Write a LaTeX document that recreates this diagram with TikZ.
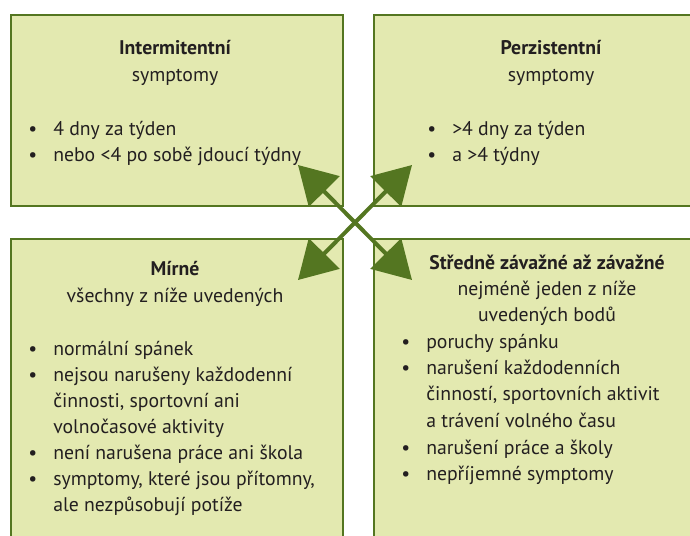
\documentclass[tikz,border=0pt]{standalone}
\usepackage{fontspec}
\setmainfont{PT Sans}
\usepackage{xcolor}
\usetikzlibrary{arrows.meta}
\definecolor{panelfill}{HTML}{E3E9B0}
\definecolor{leaf}{HTML}{547621}
\definecolor{ink}{HTML}{231F20}
\newcommand{\bodyfont}{\fontsize{14.8}{19.7}\selectfont}
\newcommand{\bul}{\llap{\textbullet\hspace{12pt}}}
\newcommand{\rows}[1]{\begin{tabular}[t]{@{}l@{}}#1\end{tabular}}

\begin{document}
\begin{tikzpicture}[
  x=0.75pt, y=-0.75pt,
  panel/.style={draw=leaf,fill=panelfill,line width=1.5pt,
                anchor=north west,inner sep=0pt},
  head/.style={anchor=base,inner sep=0pt,font=\bodyfont\bfseries,text=ink},
  sub/.style={anchor=base,inner sep=0pt,font=\bodyfont,text=ink},
  item/.style={anchor=base west,inner sep=0pt,font=\bodyfont,text=ink},
  link/.style={{Triangle[length=28pt,width=32pt]}-{Triangle[length=28pt,width=32pt]},
               line width=3pt,draw=leaf,fill=leaf}
]
\useasboundingbox (0,0) rectangle (690,536);
\clip (0,0) rectangle (690,536);
% panels
\node[panel,minimum width=249pt,minimum height=143.6pt] (inter) at (9.5,14) {};
\node[panel,minimum width=240pt,minimum height=143.6pt] (pers) at (373,14) {};
\node[panel,minimum width=249pt,minimum height=226pt] (mild) at (9.5,238) {};
\node[panel,minimum width=240pt,minimum height=226pt] (severe) at (373,238) {};
% Intermitentni
\node[head] (interhead) at (175,54) {Intermitentní};
\node[sub] (intersub) at (175,81) {symptomy};
\node[item] (inter1) at (53,135) {\bul 4 dny za týden};
\node[item] (inter2) at (53,161) {\bul nebo <4 po sobě jdoucí týdny};
% Perzistentni
\node[head] (pershead) at (551,54) {Perzistentní};
\node[sub] (perssub) at (551,81) {symptomy};
\node[item] (pers1) at (452,135) {\bul >4 dny za týden};
\node[item] (pers2) at (452,161) {\bul a >4 týdny};
% Mirne
\node[head] (mildhead) at (175,275) {Mírné};
\node[sub] (mildsub) at (175,302) {všechny z níže uvedených};
\node[item] (mild1) at (53,355) {\bul normální spánek};
\node[item] (mild2) at (53,381) {\rows{\bul nejsou narušeny každodenní\\činnosti, sportovní ani\\volnočasové aktivity}};
\node[item] (mild3) at (53,459) {\bul není narušena práce ani škola};
\node[item] (mild4) at (53,485) {\rows{\bul symptomy, které jsou přítomny,\\ale nezpůsobují potíže}};
% Stredne zavazne
\node[head] (severehead) at (547,269) {Středně závažné až závažné};
\node[sub] (severesub) at (547,295) {\rows{\hfil nejméně jeden z níže\hfil\\\hfil uvedených bodů\hfil}};
\node[item] (severe1) at (426,348) {\bul poruchy spánku};
\node[item] (severe2) at (426,374.5) {\rows{\bul narušení každodenních\\činností, sportovních aktivit\\a trávení volného času}};
\node[item] (severe3) at (426,454) {\bul narušení práce a školy};
\node[item] (severe4) at (426,480.5) {\bul nepříjemné symptomy};
% arrows
\coordinate (tipnw) at (298,165);
\coordinate (tipne) at (412,165);
\coordinate (tipsw) at (298,280);
\coordinate (tipse) at (412,280);
\draw[link] (tipnw) -- (tipse);
\draw[link] (tipne) -- (tipsw);
\end{tikzpicture}
\end{document}
